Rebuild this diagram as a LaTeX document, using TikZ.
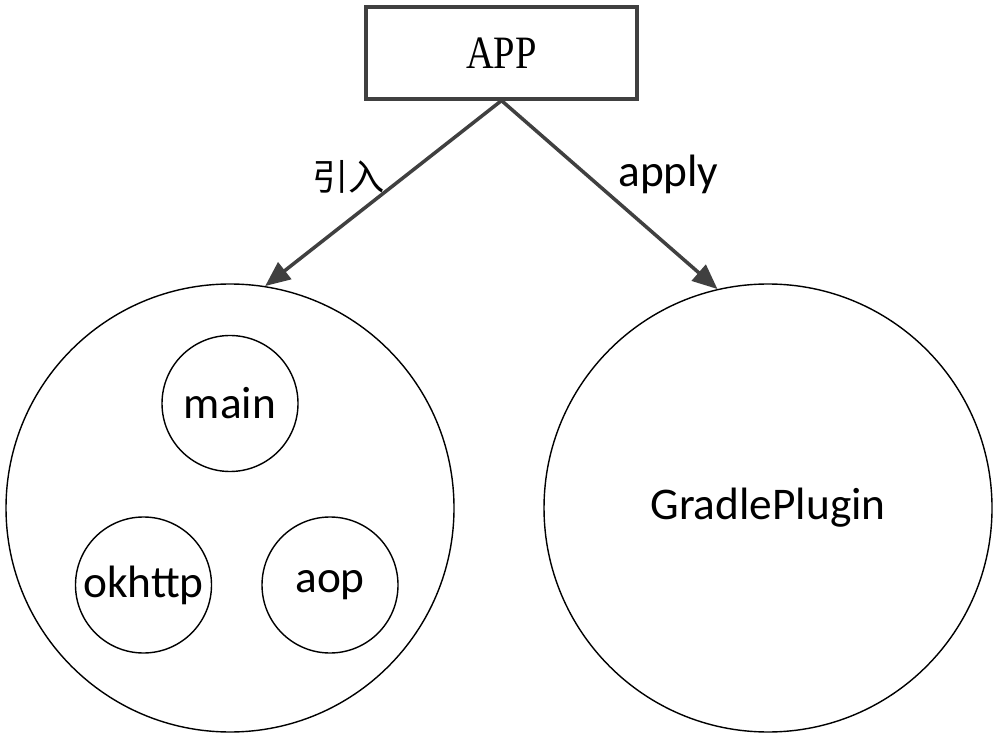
\documentclass[tikz,border=0pt]{standalone}
\usepackage{fontspec}
\usepackage{tikz}
\usetikzlibrary{arrows.meta,positioning}
\newfontfamily\labfont{Carlito}
\newfontfamily\appfont[FakeStretch=0.83]{Liberation Serif}
\newfontfamily\cjkfont{Noto Sans CJK SC}
\definecolor{linegray}{HTML}{404040}

\begin{document}
\begin{tikzpicture}[
  box/.style={draw=linegray,line width=0.9pt,minimum width=2.71cm,minimum height=0.92cm,
    font=\appfont\fontsize{13.2}{15}\selectfont},
  big/.style={draw,circle,line width=0.4pt,minimum size=4.48cm,inner sep=0pt,
    font=\labfont\fontsize{12.9}{15}\selectfont},
  small/.style={draw,circle,line width=0.4pt,minimum size=1.36cm,inner sep=0pt,
    font=\labfont\fontsize{12.9}{15}\selectfont},
  arrow/.style={-{Triangle[length=2.5mm,width=2.1mm]},draw=linegray,fill=linegray,line width=1pt}
]
\useasboundingbox (0,0) rectangle (10,-7.4);

\node[box] (app) at (5.015,-0.53) {APP};

% two parts below the app
\node[big] (lib) at (2.30,-5.08) {};
\node[big] (plug) at (7.68,-5.08) {GradlePlugin};

\node[small] (main) at (2.30,-4.035) {main};
\node[small] (okhttp) at (1.435,-5.85) {okhttp};
\node[small] (aop) at (3.30,-5.85) {aop};

\draw[arrow] (app.south) -- node[above left,inner sep=1pt,xshift=0.07cm,yshift=-0.05cm,
  font=\cjkfont\fontsize{10.3}{12}\selectfont]{引入} (lib.81);
\draw[arrow] (app.south) -- node[above right,inner sep=2pt,yshift=-0.08cm,
  font=\labfont\fontsize{12.9}{15}\selectfont]{apply} (plug.103);
\end{tikzpicture}
\end{document}
